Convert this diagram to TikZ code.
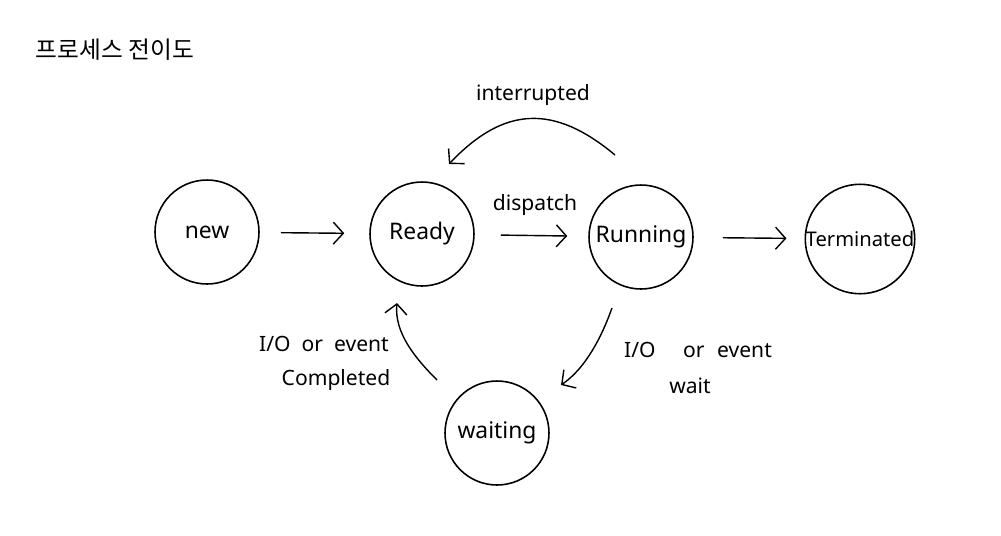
\documentclass[tikz,border=0pt]{standalone}
\usepackage{fontspec}
\setmainfont{Noto Sans}
\newfontfamily\korfont{Noto Sans CJK KR}
\usetikzlibrary{arrows.meta}

\begin{document}
\begin{tikzpicture}[
    x=0.02cm, y=-0.02cm,
    % estados do processo
    estado/.style={
        draw,
        circle,
        line width=0.9pt,
        minimum size=2.08cm,
        inner sep=0pt,
        font=\fontsize{13}{15}\selectfont
    },
    % transicoes
    seta/.style={draw, line width=0.8pt, -{Straight Barb[length=2mm,width=4.4mm]}},
    rotulo/.style={font=\fontsize{12}{20}\selectfont, align=center}
]
\useasboundingbox (0,0) rectangle (1001,535);

% ---- TITULO ----
\node[font=\korfont\fontsize{13.5}{15}\selectfont] (titulo) at (115,50) {프로세스 전이도};

% ---- ESTADOS ----
\node[estado] (new)     at (207,232) {new};
\node[estado] (ready)   at (422,234) {Ready};
\node[estado] (running) at (641,237) {Running};
\node[estado, font=\fontsize{11.5}{14}\selectfont] (term) at (860,239) {Terminated};
\node[estado] (waiting) at (497,433) {waiting};

% ---- TRANSICOES RETAS ----
\draw[seta, shorten <=0.42cm, shorten >=0.5cm]  (new) -- (ready);
\draw[seta, shorten <=0.52cm, shorten >=0.42cm] (ready) -- (running);
\draw[seta, shorten <=0.58cm, shorten >=0.36cm] (running) -- (term);

\node[rotulo] (l_disp) at (535,205) {dispatch};

% ---- TRANSICOES CURVAS ----
\coordinate (int_ini) at ([shift={(-26,-82)}]running.center);
\coordinate (int_fim) at ([shift={(27,-70)}]ready.center);
\draw[seta] (int_ini) .. controls +(-61,-51) and +(55,-58) .. (int_fim);
\node[rotulo] (l_int) at (533,95) {interrupted};

\coordinate (esp_ini) at ([shift={(-29,71)}]running.center);
\coordinate (esp_fim) at ([shift={(64,-48)}]waiting.center);
\draw[seta] (esp_ini) .. controls +(-10,28) and +(25,-17) .. (esp_fim);
\node[rotulo] (l_wait1) at (698,350) {I/O\hspace{1.3em}or\hspace{0.6em}event};
\node[rotulo] (l_wait2) at (690,386) {wait};

\coordinate (vol_ini) at ([shift={(-60,-53)}]waiting.center);
\coordinate (vol_fim) at ([shift={(-25,69)}]ready.center);
\draw[seta] (vol_ini) .. controls +(-21,-21) and +(-3,30) .. (vol_fim);
\node[rotulo] (l_comp1) at (324,344) {I/O \ or \ event};
\node[rotulo] (l_comp2) at (336,380) {Completed};

\end{tikzpicture}
\end{document}
